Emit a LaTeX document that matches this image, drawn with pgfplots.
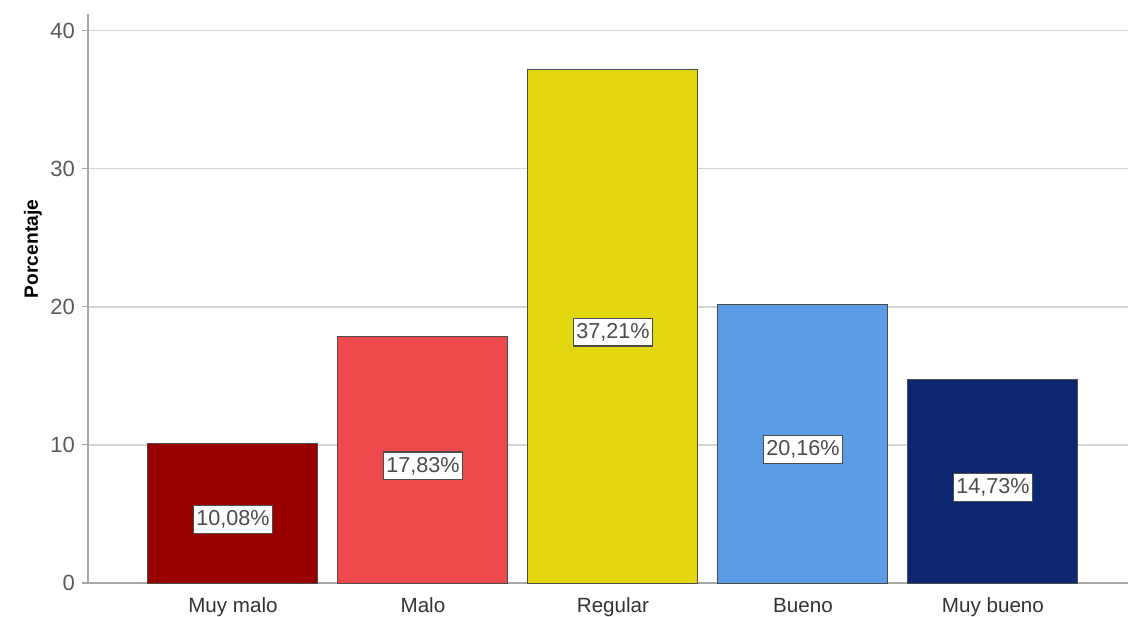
\documentclass[border=0pt]{standalone}
\usepackage{pgfplots}
\pgfplotsset{compat=1.18}
\usepackage{fontspec}
\setmainfont{Liberation Sans}
\definecolor{cMuyMalo}{HTML}{990000}
\definecolor{cMalo}{HTML}{EC4A4C}
\definecolor{cRegular}{HTML}{E2D70F}
\definecolor{cBueno}{HTML}{5B9AE5}
\definecolor{cMuyBueno}{HTML}{0C2670}
\definecolor{gridc}{HTML}{D4D4D4}
\definecolor{axisc}{HTML}{A8A8A8}
\begin{document}
\begin{tikzpicture}[x=1pt,y=1pt]
\path[use as bounding box] (-44,-16.5) rectangle (520,291.5);
\begin{axis}[
  at={(0,0)}, anchor=south west,
  scale only axis, width=520pt, height=284.5pt,
  ybar, bar shift=0pt, bar width=0.895,
  xmin=-0.763, xmax=4.711,
  ymin=0, ymax=41.2,
  xtick={0,1,2,3,4},
  xticklabels={Muy malo,Malo,Regular,Bueno,Muy bueno},
  ytick={0,10,20,30,40},
  axis x line*=bottom, axis y line*=left,
  axis line style={axisc, line width=0.8pt},
  x tick style={draw=none},
  y tick style={axisc, line width=0.6pt},
  tick align=outside, major tick length=3pt,
  ymajorgrids, grid style={gridc, line width=0.8pt},
  /pgf/number format/assume math mode=true,
  yticklabel style={font=\fontsize{11}{12}\selectfont, text=black!65, xshift=0pt},
  xticklabel style={font=\fontsize{10.3}{12}\selectfont, text=black!80, yshift=-1pt},
  ylabel={\bfseries Porcentaje},
  every axis y label/.style={at={(axis description cs:-0.0529,0.587)}, rotate=90, anchor=center, font=\fontsize{9.6}{11}\selectfont},
  visualization depends on={y \as \rawy},
  nodes near coords={\pgfmathprintnumber[fixed, fixed zerofill, precision=2, use comma]{\pgfplotspointmeta}\%},
  nodes near coords style={font=\fontsize{10.8}{12}\selectfont, text=black!70, fill=white, draw=black!70, line width=0.6pt, inner xsep=1.5pt, inner ysep=2.5pt, anchor=center, shift={(axis direction cs:0,-\rawy/2)}, yshift=-3pt},
  every axis plot/.append style={draw=black!70, line width=0.5pt},
]
\addplot[fill=cMuyMalo] coordinates {(0,10.08)};
\addplot[fill=cMalo] coordinates {(1,17.83)};
\addplot[fill=cRegular] coordinates {(2,37.21)};
\addplot[fill=cBueno] coordinates {(3,20.16)};
\addplot[fill=cMuyBueno] coordinates {(4,14.73)};
\end{axis}
\end{tikzpicture}
\end{document}
